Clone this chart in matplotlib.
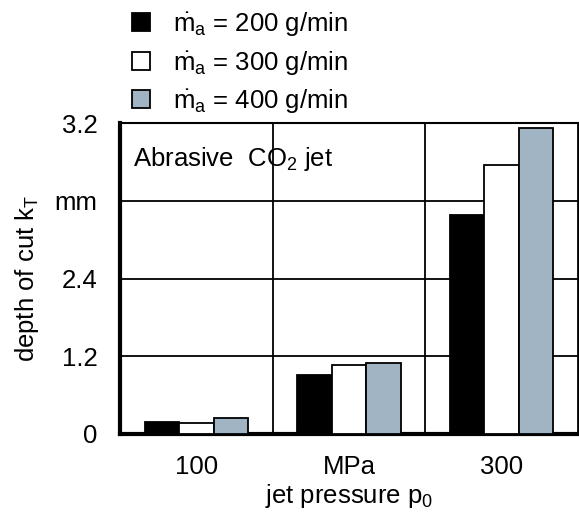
import numpy as np
import matplotlib.pyplot as plt

plt.rcParams['font.family'] = ['Liberation Sans', 'DejaVu Sans']
plt.rcParams['mathtext.fontset'] = 'custom'
plt.rcParams['mathtext.rm'] = 'Liberation Sans'
plt.rcParams['mathtext.it'] = 'Liberation Sans'

groups = ['100', 'MPa', '300']
flow_labels = [r'$\mathrm{\dot{m}_a}$ = 200 g/min',
               r'$\mathrm{\dot{m}_a}$ = 300 g/min',
               r'$\mathrm{\dot{m}_a}$ = 400 g/min']
depth_200 = [0.18, 0.91, 3.38]
depth_300 = [0.17, 1.06, 4.15]
depth_400 = [0.24, 1.09, 4.73]
ytick_vals = [0, 1.2, 2.4, 3.6, 4.8]
ytick_labels = ['0', '1.2', '2.4', 'mm', '3.2']

fs = 18.5
fig = plt.figure(figsize=(5.79, 5.13), dpi=100)
ax = fig.add_axes([0.2073, 0.154, 0.791, 0.606])

x = np.arange(len(groups)) + 0.5
w = 0.226
colors = ['black', 'white', '#a1b4c3']
for i, (vals, c) in enumerate(zip([depth_200, depth_300, depth_400], colors)):
    ax.bar(x + (i - 1) * w, vals, w, color=c, edgecolor='black', linewidth=1.3,
           label=flow_labels[i], zorder=3)

ax.set_xlim(0, 3)
ax.set_ylim(0, 4.8)
ax.set_yticks(ytick_vals)
ax.set_yticklabels(ytick_labels, fontsize=fs)
ax.set_xticks(x)
ax.set_xticklabels(groups, fontsize=fs)
ax.tick_params(length=0)
ax.tick_params(axis='x', pad=15)
ax.tick_params(axis='y', pad=16)
for v in [1, 2]:
    ax.axvline(v, color='black', lw=1.3, zorder=1)
for v in ytick_vals[1:-1]:
    ax.axhline(v, color='black', lw=1.3, zorder=1)

ax.spines['left'].set_linewidth(3)
ax.spines['bottom'].set_linewidth(3)
ax.spines['top'].set_linewidth(1.5)
ax.spines['right'].set_linewidth(2)

ax.set_xlabel(r'jet pressure p$_0$', fontsize=fs, labelpad=2)
ax.set_ylabel(r'depth of cut k$_\mathrm{T}$', fontsize=fs, labelpad=10)
ax.text(0.028, 0.885, r'Abrasive  CO$_2$ jet', transform=ax.transAxes,
        fontsize=fs, va='center', ha='left')

ax.legend(loc='lower left', bbox_to_anchor=(0.01, 1.0), frameon=False,
          fontsize=fs, handlelength=0.7, handleheight=0.7, handletextpad=0.9,
          labelspacing=0.42, borderaxespad=0.2, borderpad=0.1)

fig.savefig('out.png', dpi=100)
